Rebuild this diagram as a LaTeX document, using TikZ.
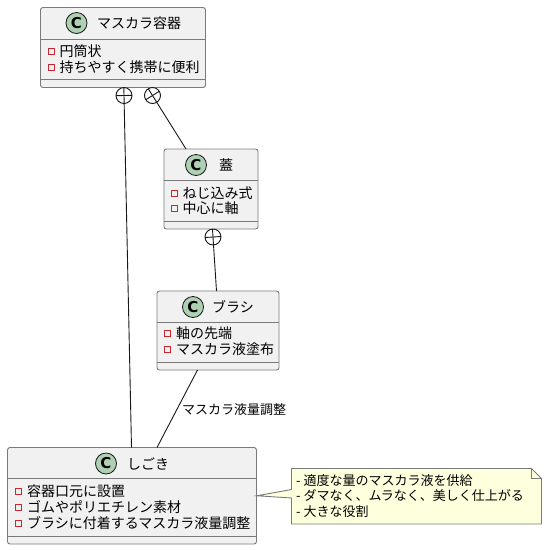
\documentclass[tikz,border=0pt]{standalone}
\usepackage{fontspec}
\newfontfamily\jpfont{Noto Sans CJK JP}
\newfontfamily\spotfont{DejaVu Sans}
\usetikzlibrary{positioning,calc}
\definecolor{umlFill}{HTML}{F1F1F1}
\definecolor{umlBorder}{HTML}{7A7A7A}
\definecolor{umlLine}{HTML}{181818}
\definecolor{umlSpot}{HTML}{ADD1B2}
\definecolor{umlRed}{HTML}{C82930}
\definecolor{umlNote}{HTML}{FEFFDD}

\begin{document}
\begin{tikzpicture}[
    x=1pt, y=-1pt,
    class box/.style={rectangle, rounded corners=2.5pt, draw=umlBorder, line width=0.9pt, fill=umlFill, inner sep=0pt},
    class rule/.style={draw=umlBorder, line width=0.9pt},
    spot/.style={circle, draw=umlLine, line width=0.8pt, fill=umlSpot, minimum size=21pt, inner sep=0pt, font=\spotfont\bfseries\fontsize{15}{15}\selectfont},
    class title/.style={anchor=west, inner sep=0pt, font=\jpfont\fontsize{14}{16}\selectfont},
    attr mark/.style={rectangle, draw=umlRed, line width=0.8pt, minimum size=6pt, inner sep=0pt},
    attr text/.style={anchor=west, inner sep=0pt, font=\jpfont\fontsize{14}{16}\selectfont},
    own mark/.style={circle, draw=umlLine, line width=0.9pt, fill=white, minimum size=16pt, inner sep=0pt},
    link/.style={draw=umlLine, line width=0.9pt},
    link label/.style={anchor=west, inner sep=0pt, font=\jpfont\fontsize{13}{15}\selectfont},
    note box/.style={draw=umlBorder, line width=0.9pt, fill=umlNote},
    note text/.style={anchor=west, inner sep=0pt, font=\jpfont\fontsize{13}{15}\selectfont}
]
  \useasboundingbox (0,0) rectangle (548,550);

  % class boxes
  \node[class box, minimum width=165pt, minimum height=80pt] (cup) at (123,47.5) {};
  \draw[class rule] (cup.west |- 0,39.5) -- (cup.east |- 0,39.5);
  \draw[class rule] (cup.west |- 0,79.5) -- (cup.east |- 0,79.5);
  \node[spot] (cupSpot) at (76.5,23) {C};
  \node[class title] (cupName) at (97,23) {マスカラ容器};
  \node[attr mark] (cupM1) at (51.5,51.5) {};
  \node[attr text] (cupA1) at (59.5,51.5) {円筒状};
  \node[attr mark] (cupM2) at (51.5,67.5) {};
  \node[attr text] (cupA2) at (59.5,67.5) {持ちやすく携帯に便利};

  \node[class box, minimum width=94pt, minimum height=80pt] (lid) at (211,189) {};
  \draw[class rule] (lid.west |- 0,180) -- (lid.east |- 0,180);
  \draw[class rule] (lid.west |- 0,221) -- (lid.east |- 0,221);
  \node[spot] (lidSpot) at (196,165) {C};
  \node[class title] (lidName) at (219,165) {蓋};
  \node[attr mark] (lidM1) at (174,193.5) {};
  \node[attr text] (lidA1) at (182.5,193.5) {ねじ込み式};
  \node[attr mark] (lidM2) at (174,208.5) {};
  \node[attr text] (lidA2) at (182.5,208.5) {中心に軸};

  \node[class box, minimum width=122pt, minimum height=79pt] (brush) at (218,330.5) {};
  \draw[class rule] (brush.west |- 0,322) -- (brush.east |- 0,322);
  \draw[class rule] (brush.west |- 0,362) -- (brush.east |- 0,362);
  \node[spot] (brushSpot) at (193,307) {C};
  \node[class title] (brushName) at (212,307) {ブラシ};
  \node[attr mark] (brushM1) at (167.5,333.5) {};
  \node[attr text] (brushA1) at (176,333.5) {軸の先端};
  \node[attr mark] (brushM2) at (167.5,349.5) {};
  \node[attr text] (brushA2) at (176,349.5) {マスカラ液塗布};

  \node[class box, minimum width=249pt, minimum height=96.5pt] (wiper) at (132,495.75) {};
  \draw[class rule] (wiper.west |- 0,478.5) -- (wiper.east |- 0,478.5);
  \draw[class rule] (wiper.west |- 0,536) -- (wiper.east |- 0,536);
  \node[spot] (wiperSpot) at (106,463.5) {C};
  \node[class title] (wiperName) at (127,463.5) {しごき};
  \node[attr mark] (wiperM1) at (18.5,491.5) {};
  \node[attr text] (wiperA1) at (27,491.5) {容器口元に設置};
  \node[attr mark] (wiperM2) at (18.5,507.5) {};
  \node[attr text] (wiperA2) at (27,507.5) {ゴムやポリエチレン素材};
  \node[attr mark] (wiperM3) at (18.5,523.5) {};
  \node[attr text] (wiperA3) at (27,523.5) {ブラシに付着するマスカラ液量調整};

  % connectors
  \coordinate (wiperIn) at (131.5,447.5);
  \coordinate (lidIn) at (186,149);
  \coordinate (brushIn) at (216.5,291);
  \coordinate (brushOut) at (197.5,370);
  \coordinate (wiperIn2) at (157,447.5);

  \coordinate (cupPlusAt) at (124,95.5);
  \coordinate (cupCrossAt) at (152.5,95.5);
  \coordinate (lidPlusAt) at (213,237);

  \draw[link] (cupPlusAt) -- (wiperIn);
  \draw[link] (cupCrossAt) -- (lidIn);
  \draw[link] (lidPlusAt) -- (brushIn);
  \draw[link] (brushOut) -- (wiperIn2);
  \node[link label] (brushLabel) at (182,410) {マスカラ液量調整};

  \node[own mark] (cupPlus) at (cupPlusAt) {};
  \draw[link] ($(cupPlus)!8pt!(wiperIn)$) -- ($(cupPlus)!-8pt!(wiperIn)$);
  \draw[link] ($(cupPlus)!8pt!90:(wiperIn)$) -- ($(cupPlus)!8pt!-90:(wiperIn)$);
  \node[own mark] (cupCross) at (cupCrossAt) {};
  \draw[link] ($(cupCross)!8pt!(lidIn)$) -- ($(cupCross)!-8pt!(lidIn)$);
  \draw[link] ($(cupCross)!8pt!90:(lidIn)$) -- ($(cupCross)!8pt!-90:(lidIn)$);
  \node[own mark] (lidPlus) at (lidPlusAt) {};
  \draw[link] ($(lidPlus)!8pt!(brushIn)$) -- ($(lidPlus)!-8pt!(brushIn)$);
  \draw[link] ($(lidPlus)!8pt!90:(brushIn)$) -- ($(lidPlus)!8pt!-90:(brushIn)$);

  % note
  \draw[note box] (291.5,468.5) -- (531.5,468.5) -- (541.5,478.5) -- (541.5,524) -- (291.5,524)
    -- (291.5,498) -- (wiper.east) -- (291.5,489.5) -- cycle;
  \draw[note box, fill=none] (531.5,468.5) -- (531.5,478.5) -- (541.5,478.5);
  \node[note text] (tipA) at (296,480.5) {- 適度な量のマスカラ液を供給};
  \node[note text] (tipB) at (296,496) {- ダマなく、ムラなく、美しく仕上がる};
  \node[note text] (tipC) at (296,511.5) {- 大きな役割};
\end{tikzpicture}
\end{document}
